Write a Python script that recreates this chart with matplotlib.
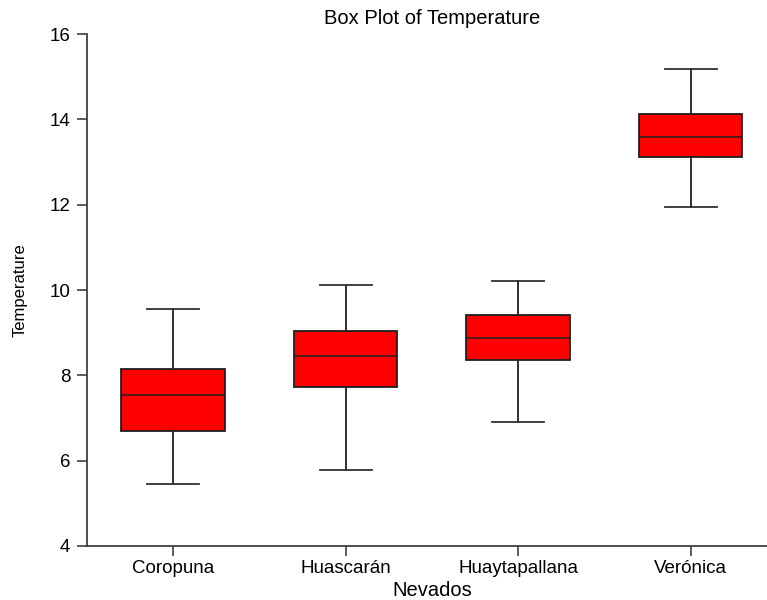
import matplotlib
matplotlib.use("Agg")
import matplotlib.pyplot as plt

# values
nevados = ["Coropuna", "Huascarán", "Huaytapallana", "Verónica"]
whis_lo = [5.45, 5.78, 6.91, 11.95]
q1 = [6.70, 7.73, 8.36, 13.12]
med = [7.54, 8.45, 8.88, 13.59]
q3 = [8.15, 9.04, 9.41, 14.13]
whis_hi = [9.55, 10.12, 10.22, 15.18]

plt.rcParams["font.family"] = ["Liberation Sans", "DejaVu Sans"]

fig = plt.figure(figsize=(7.67, 6.0), dpi=100)
ax = fig.add_axes([0.1134, 0.09, 0.8996, 0.8533])

stats = []
for i, name in enumerate(nevados):
    stats.append({
        "label": name,
        "whislo": whis_lo[i],
        "q1": q1[i],
        "med": med[i],
        "q3": q3[i],
        "whishi": whis_hi[i],
        "fliers": [],
    })

ax.bxp(
    stats,
    positions=range(1, len(nevados) + 1),
    widths=0.6,
    patch_artist=True,
    showfliers=False,
    boxprops=dict(facecolor="#ff0000", edgecolor="#202020", linewidth=1.3),
    medianprops=dict(color="#202020", linewidth=1.1),
    whiskerprops=dict(color="#202020", linewidth=1.3),
    capprops=dict(color="#303030", linewidth=1.3),
    capwidths=0.3,
)

ax.set_xlim(0.5, 4.5)
ax.set_ylim(4, 16)
ax.set_yticks([4, 6, 8, 10, 12, 14, 16])

for side in ["top", "right"]:
    ax.spines[side].set_visible(False)
for side in ["left", "bottom"]:
    ax.spines[side].set_color("#404040")
    ax.spines[side].set_linewidth(1.3)

ax.tick_params(axis="both", direction="out", length=7, width=1.2,
               color="#404040", labelsize=13.5)
ax.tick_params(axis="x", pad=3)
ax.tick_params(axis="y", pad=5)

ax.set_title("Box Plot of Temperature", fontsize=14.5, pad=7)
ax.set_xlabel("Nevados", fontsize=14.5, labelpad=3)
ax.set_ylabel("Temperature", fontsize=12,
              family=["Liberation Sans Narrow", "Liberation Sans", "DejaVu Sans"],
              labelpad=16)

fig.savefig("out.png", dpi=100)
